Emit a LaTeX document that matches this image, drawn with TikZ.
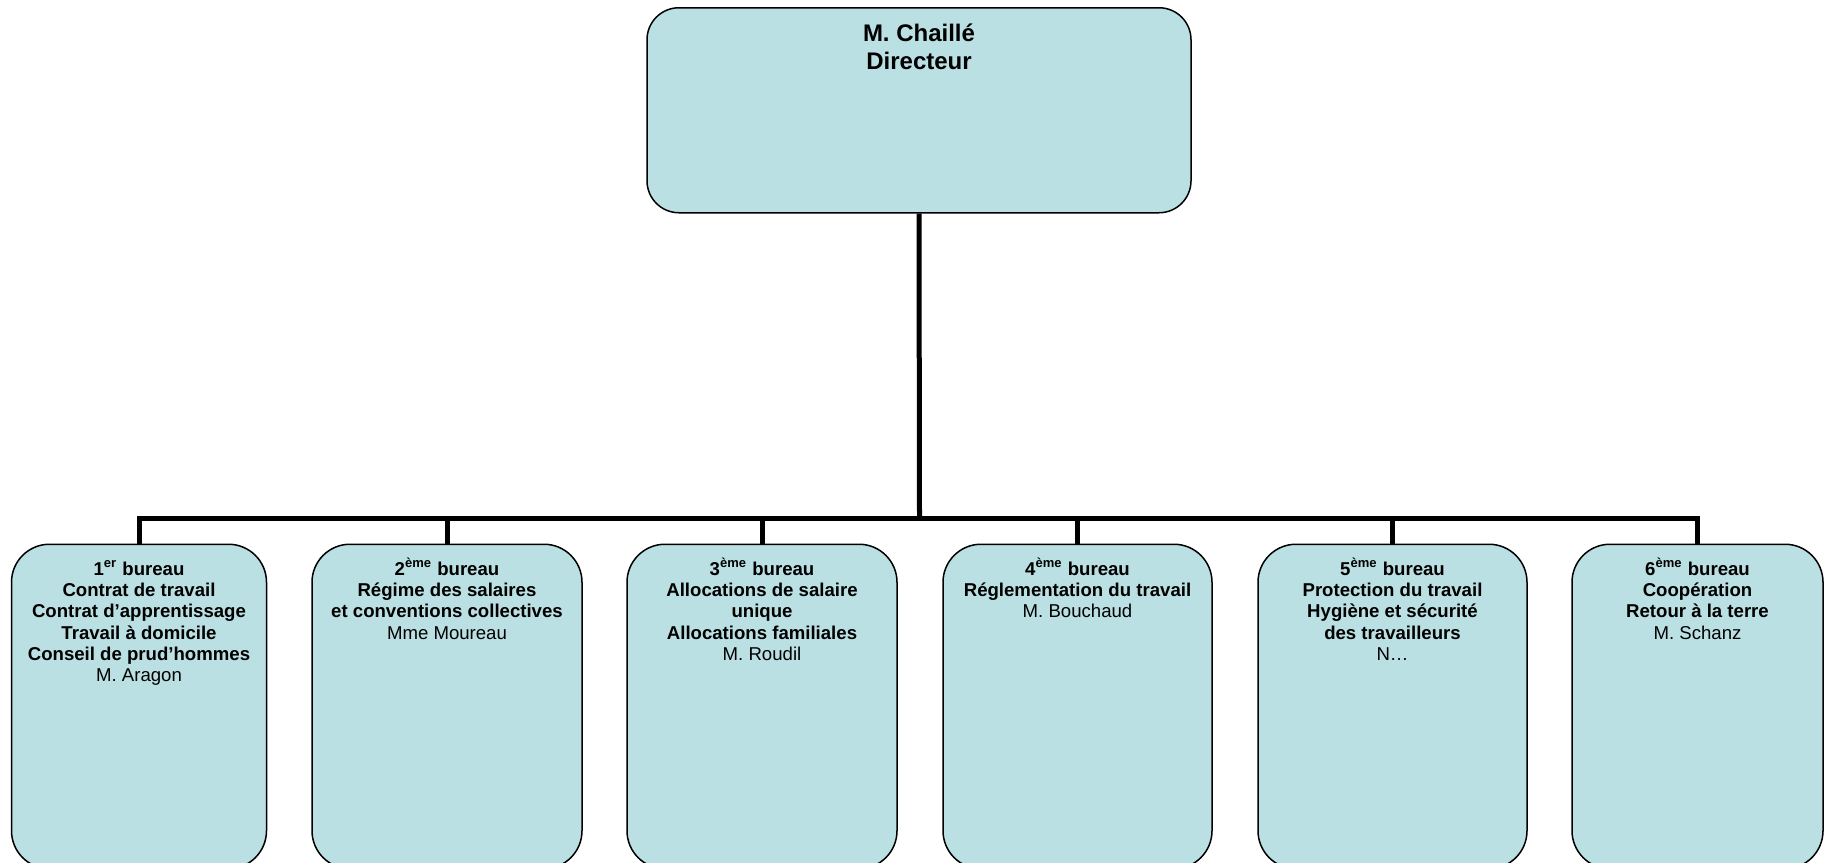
\documentclass[tikz,border=0pt]{standalone}
\usepackage{fontspec}
\setmainfont{Liberation Sans}
\definecolor{boxfill}{RGB}{187,224,227}

\begin{document}
\begin{tikzpicture}[
	x=0.5pt, y=-0.5pt,
	directornode/.style={
		% The shape:
		rectangle,
		rounded corners=16pt,
		% The size:
		minimum width=272pt,
		minimum height=102.5pt,
		inner sep=0pt,
		anchor=north,
		% The border:
		draw=black,
		line width=0.75pt,
		% The filling:
		fill=boxfill
		},
	bureaunode/.style={
		% The shape:
		rectangle,
		rounded corners=19pt,
		% The size:
		minimum width=#1,
		minimum height=162.25pt,
		inner sep=0pt,
		anchor=north,
		% The border:
		draw=black,
		line width=0.75pt,
		% The filling:
		fill=boxfill
		},
	bureautext/.style={
		anchor=north,
		inner sep=0pt,
		align=center,
		font=\fontsize{9.3}{10.6}\selectfont
		},
	linkline/.style={line width=2.5pt, draw=black}
	]
	\useasboundingbox (0,0) rectangle (1825,862);

	% boxes
	\node (DIR)[directornode] at (919,7) {};
	\node (B1)[bureaunode=127.5pt] at (139,543.5) {};
	\node (B2)[bureaunode=135pt] at (447,543.5) {};
	\node (B3)[bureaunode=135pt] at (762,543.5) {};
	\node (B4)[bureaunode=134.5pt] at (1077.5,543.5) {};
	\node (B5)[bureaunode=134.5pt] at (1392.5,543.5) {};
	\node (B6)[bureaunode=125.5pt] at (1697.5,543.5) {};

	% connectors
	\coordinate (BUS) at (919.5,518);
	\draw [linkline] (DIR.south) -- (BUS);
	\foreach \b in {B1,B2,B3,B4,B5,B6}
		\draw [linkline] (BUS) -| (\b.north);

	% texts (the rule fixes the height of the first line)
	\node (TDIR)[bureautext, font=\fontsize{12}{13.9}\selectfont] at (919,17)
		{\rule{0pt}{12pt}\textbf{M. Chaillé}\\\textbf{Directeur}};
	\node (T1)[bureautext] at (139,555) {\rule{0pt}{10pt}\textbf{1\textsuperscript{er} bureau}\\
		\textbf{Contrat de travail}\\\textbf{Contrat d’apprentissage}\\
		\textbf{Travail à domicile}\\\textbf{Conseil de prud’hommes}\\M. Aragon};
	\node (T2)[bureautext] at (447,555) {\rule{0pt}{10pt}\textbf{2\textsuperscript{ème} bureau}\\
		\textbf{Régime des salaires}\\\textbf{et conventions collectives}\\Mme Moureau};
	\node (T3)[bureautext] at (762,555) {\rule{0pt}{10pt}\textbf{3\textsuperscript{ème} bureau}\\
		\textbf{Allocations de salaire}\\\textbf{unique}\\
		\textbf{Allocations familiales}\\M. Roudil};
	\node (T4)[bureautext] at (1077.5,555) {\rule{0pt}{10pt}\textbf{4\textsuperscript{ème} bureau}\\
		\textbf{Réglementation du travail}\\M. Bouchaud};
	\node (T5)[bureautext] at (1392.5,555) {\rule{0pt}{10pt}\textbf{5\textsuperscript{ème} bureau}\\
		\textbf{Protection du travail}\\\textbf{Hygiène et sécurité}\\
		\textbf{des travailleurs}\\N\ldots};
	\node (T6)[bureautext] at (1697.5,555) {\rule{0pt}{10pt}\textbf{6\textsuperscript{ème} bureau}\\
		\textbf{Coopération}\\\textbf{Retour à la terre}\\M. Schanz};
\end{tikzpicture}
\end{document}
